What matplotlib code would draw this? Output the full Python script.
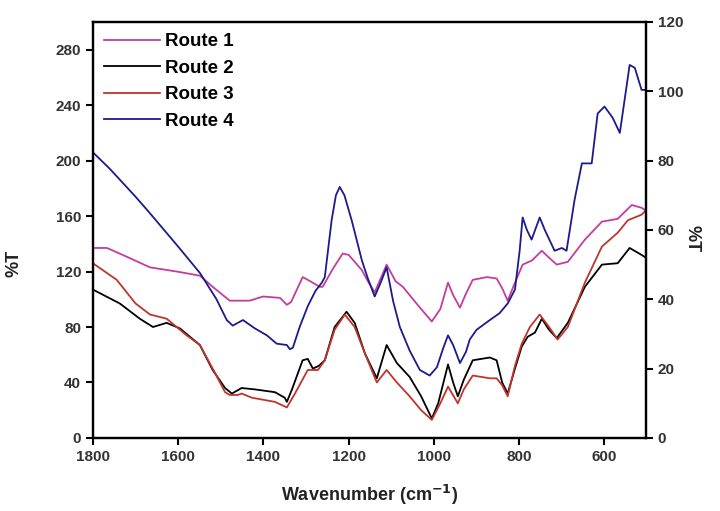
import matplotlib
matplotlib.use("Agg")
import matplotlib.pyplot as plt

plt.rcParams["font.family"] = ["Liberation Sans", "DejaVu Sans"]

# FTIR transmittance traces, wavenumber in cm-1 (descending) and %T
route1_wn = [1800, 1767, 1730, 1666, 1603, 1549, 1519, 1479, 1432, 1401, 1361, 1345, 1335,
             1308, 1290, 1268, 1261, 1237, 1214, 1200, 1169, 1155, 1139, 1111, 1090, 1073,
             1033, 1005, 985, 967, 955, 939, 925, 909, 876, 853, 840, 827, 810, 792, 770,
             747, 730, 712, 686, 646, 606, 569, 536, 513, 503]
route1_t = [137, 137, 132, 123, 120, 117, 109, 99, 99, 102, 101, 96, 98,
            116, 113, 109, 109, 122, 133, 132, 121, 113, 105, 125, 113, 109,
            94, 84, 93, 112, 103, 94, 104, 114, 116, 115, 108, 99, 112, 125, 128,
            135, 130, 125, 127, 143, 156, 158, 168, 166, 164]

route2_wn = [1800, 1737, 1690, 1659, 1627, 1596, 1549, 1519, 1490, 1474, 1451, 1420, 1373,
             1350, 1345, 1333, 1308, 1296, 1284, 1270, 1256, 1233, 1205, 1186, 1162, 1134,
             1111, 1087, 1057, 1030, 1005, 990, 967, 955, 944, 930, 909, 869, 853, 840,
             827, 810, 794, 780, 763, 747, 730, 712, 686, 646, 606, 569, 541, 513, 503]
route2_t = [107, 97, 86, 80, 83, 79, 67, 49, 36, 32, 36, 35, 33,
            29, 26, 35, 56, 57, 50, 52, 56, 80, 91, 83, 61, 43,
            67, 54, 44, 30, 14, 25, 53, 40, 30, 42, 56, 58, 56, 40,
            32, 50, 66, 73, 76, 86, 78, 72, 83, 109, 125, 126, 137, 132, 130]

route3_wn = [1800, 1744, 1700, 1666, 1627, 1580, 1549, 1519, 1490, 1479, 1460, 1451, 1427,
             1373, 1345, 1326, 1296, 1272, 1256, 1233, 1209, 1186, 1162, 1134, 1111, 1087,
             1057, 1030, 1005, 985, 967, 944, 930, 909, 869, 853, 840, 827, 810, 794, 775,
             752, 730, 710, 686, 646, 606, 569, 545, 513, 503]
route3_t = [126, 114, 97, 89, 86, 74, 67, 50, 33, 31, 31, 32, 29,
            26, 22, 32, 49, 49, 56, 78, 89, 80, 61, 40, 49, 40,
            30, 20, 13, 25, 37, 25, 35, 45, 43, 43, 38, 30, 52, 68, 80,
            89, 80, 71, 80, 112, 138, 148, 157, 161, 164]

route4_wn = [1800, 1760, 1700, 1666, 1600, 1549, 1510, 1486, 1472, 1460, 1448, 1420, 1392,
             1369, 1345, 1338, 1331, 1315, 1296, 1278, 1263, 1256, 1240, 1230, 1221, 1210,
             1193, 1169, 1155, 1139, 1125, 1111, 1096, 1080, 1057, 1033, 1010, 993, 978,
             967, 955, 939, 925, 916, 900, 869, 846, 827, 810, 799, 792, 782, 771, 752,
             740, 717, 700, 689, 670, 653, 630, 616, 600, 581, 564, 541, 529, 513, 503]
route4_t = [206, 194, 174, 162, 138, 119, 100, 85, 81, 83, 85, 79, 74,
            68, 67, 64, 65, 80, 95, 106, 112, 116, 157, 175, 181, 175,
            157, 128, 115, 102, 112, 123, 99, 80, 63, 49, 45, 51, 65,
            74, 67, 54, 62, 71, 78, 85, 90, 97, 107, 135, 159, 150, 143, 159,
            150, 135, 137, 135, 172, 198, 198, 234, 239, 231, 220, 269, 267, 251, 251]

labels = ["Route 1", "Route 2", "Route 3", "Route 4"]
colors = ["#c23d9e", "#000000", "#c1342c", "#1b1b8c"]

fig = plt.figure(figsize=(7.2, 5.11), dpi=100)
ax = fig.add_axes([0.129, 0.143, 0.768, 0.814])

series = [(route1_wn, route1_t), (route2_wn, route2_t),
          (route3_wn, route3_t), (route4_wn, route4_t)]
for (wn, t), lab, col in zip(series, labels, colors):
    ax.plot(wn, t, color=col, lw=1.3, label=lab)

ax.set_xlim(1800, 503)
ax.set_ylim(0, 300)
ax.set_xticks([1800, 1600, 1400, 1200, 1000, 800, 600])
ax.set_yticks(range(0, 281, 40))

ax.tick_params(axis="both", direction="out", length=5, width=1.5,
               labelsize=11, labelcolor="#333333")
for lbl in ax.get_xticklabels() + ax.get_yticklabels():
    lbl.set_fontweight("bold")
for sp in ax.spines.values():
    sp.set_linewidth(1.6)

ax.set_xlabel("Wavenumber (cm$^{\\mathbf{-1}}$)", fontsize=13, fontweight="bold",
              color="#222222", labelpad=14)
ax.set_ylabel("%T", fontsize=13, fontweight="bold", color="#222222")
ax.yaxis.set_label_coords(-0.128, 0.42)

# secondary %T scale on the right
ax2 = ax.twinx()
ax2.set_ylim(0, 120)
ax2.set_yticks(range(0, 121, 20))
ax2.tick_params(axis="y", direction="out", length=5, width=1.5,
                labelsize=11, labelcolor="#333333")
for lbl in ax2.get_yticklabels():
    lbl.set_fontweight("bold")
ax2.set_ylabel("%T", fontsize=13, fontweight="bold", color="#222222", rotation=270)
ax2.yaxis.set_label_coords(1.098, 0.48)
for sp in ax2.spines.values():
    sp.set_linewidth(1.6)

ax.legend(loc="upper left", frameon=False, handlelength=3.0, handletextpad=0.25,
          labelspacing=0.5, borderaxespad=0.2,
          prop=dict(size=13.5, weight="bold"), bbox_to_anchor=(0.0, 1.0))

fig.savefig("out.png", dpi=100)
